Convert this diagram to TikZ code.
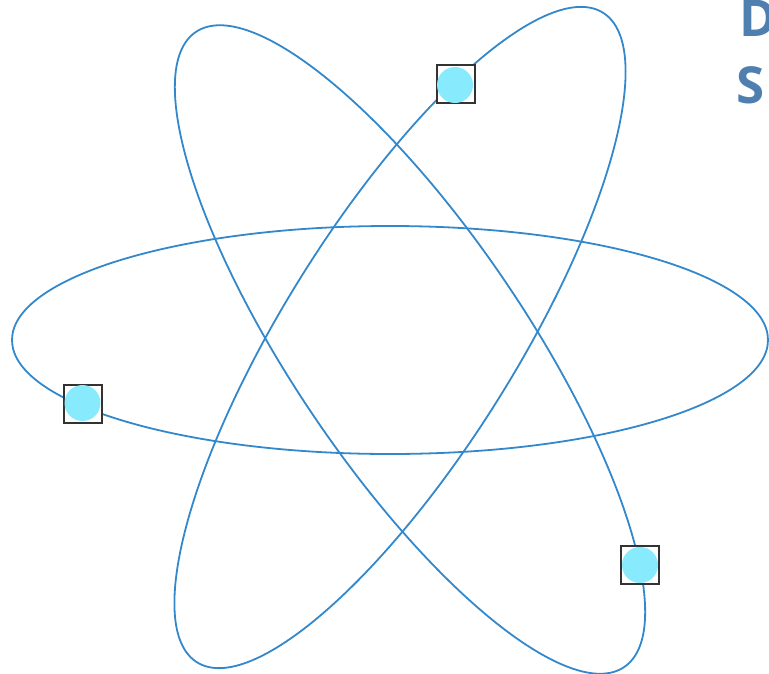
\documentclass[tikz,border=0pt]{standalone}
\usepackage{fontspec}
\setmainfont{Open Sans}
\definecolor{orbit}{HTML}{3388CC}
\definecolor{electron}{HTML}{87EAFD}
\definecolor{boxline}{HTML}{333333}
\definecolor{titleblue}{HTML}{4F7FAE}
\begin{document}
\begin{tikzpicture}[x=1pt,y=1pt,
  orbitline/.style={draw=orbit,line width=1.8pt},
  ebox/.style={draw=boxline,fill=white,line width=2pt,minimum size=38pt,inner sep=0pt},
  edot/.style={circle,fill=electron,minimum size=36pt,inner sep=0pt},
  titletext/.style={anchor=base west,inner sep=0pt,text=titleblue,font=\bfseries\fontsize{51}{60}\selectfont}]
\useasboundingbox (0,0) rectangle (769,-673);
\clip (0,0) rectangle (769,-673);
% orbits
\draw[orbitline] (390,-340) ellipse [x radius=378, y radius=114];
\draw[orbitline,rotate around={58:(400,-337.5)}] (400,-337.5) ellipse [x radius=383, y radius=116];
\draw[orbitline,rotate around={-56:(410,-349.5)}] (410,-349.5) ellipse [x radius=383, y radius=117];
% electrons
\node[ebox] (b1) at (455.5,-84) {};
\node[edot] (c1) at (455,-85) {};
\node[ebox] (b2) at (83,-404) {};
\node[edot] (c2) at (82.5,-403) {};
\node[ebox] (b3) at (640,-564.5) {};
\node[edot] (c3) at (640,-565) {};
% title (cut off at the right edge, as in the reference)
\node[titletext] (t1) at (739,-36) {D};
\node[titletext] (t2) at (736.5,-103) {S};
\end{tikzpicture}
\end{document}
